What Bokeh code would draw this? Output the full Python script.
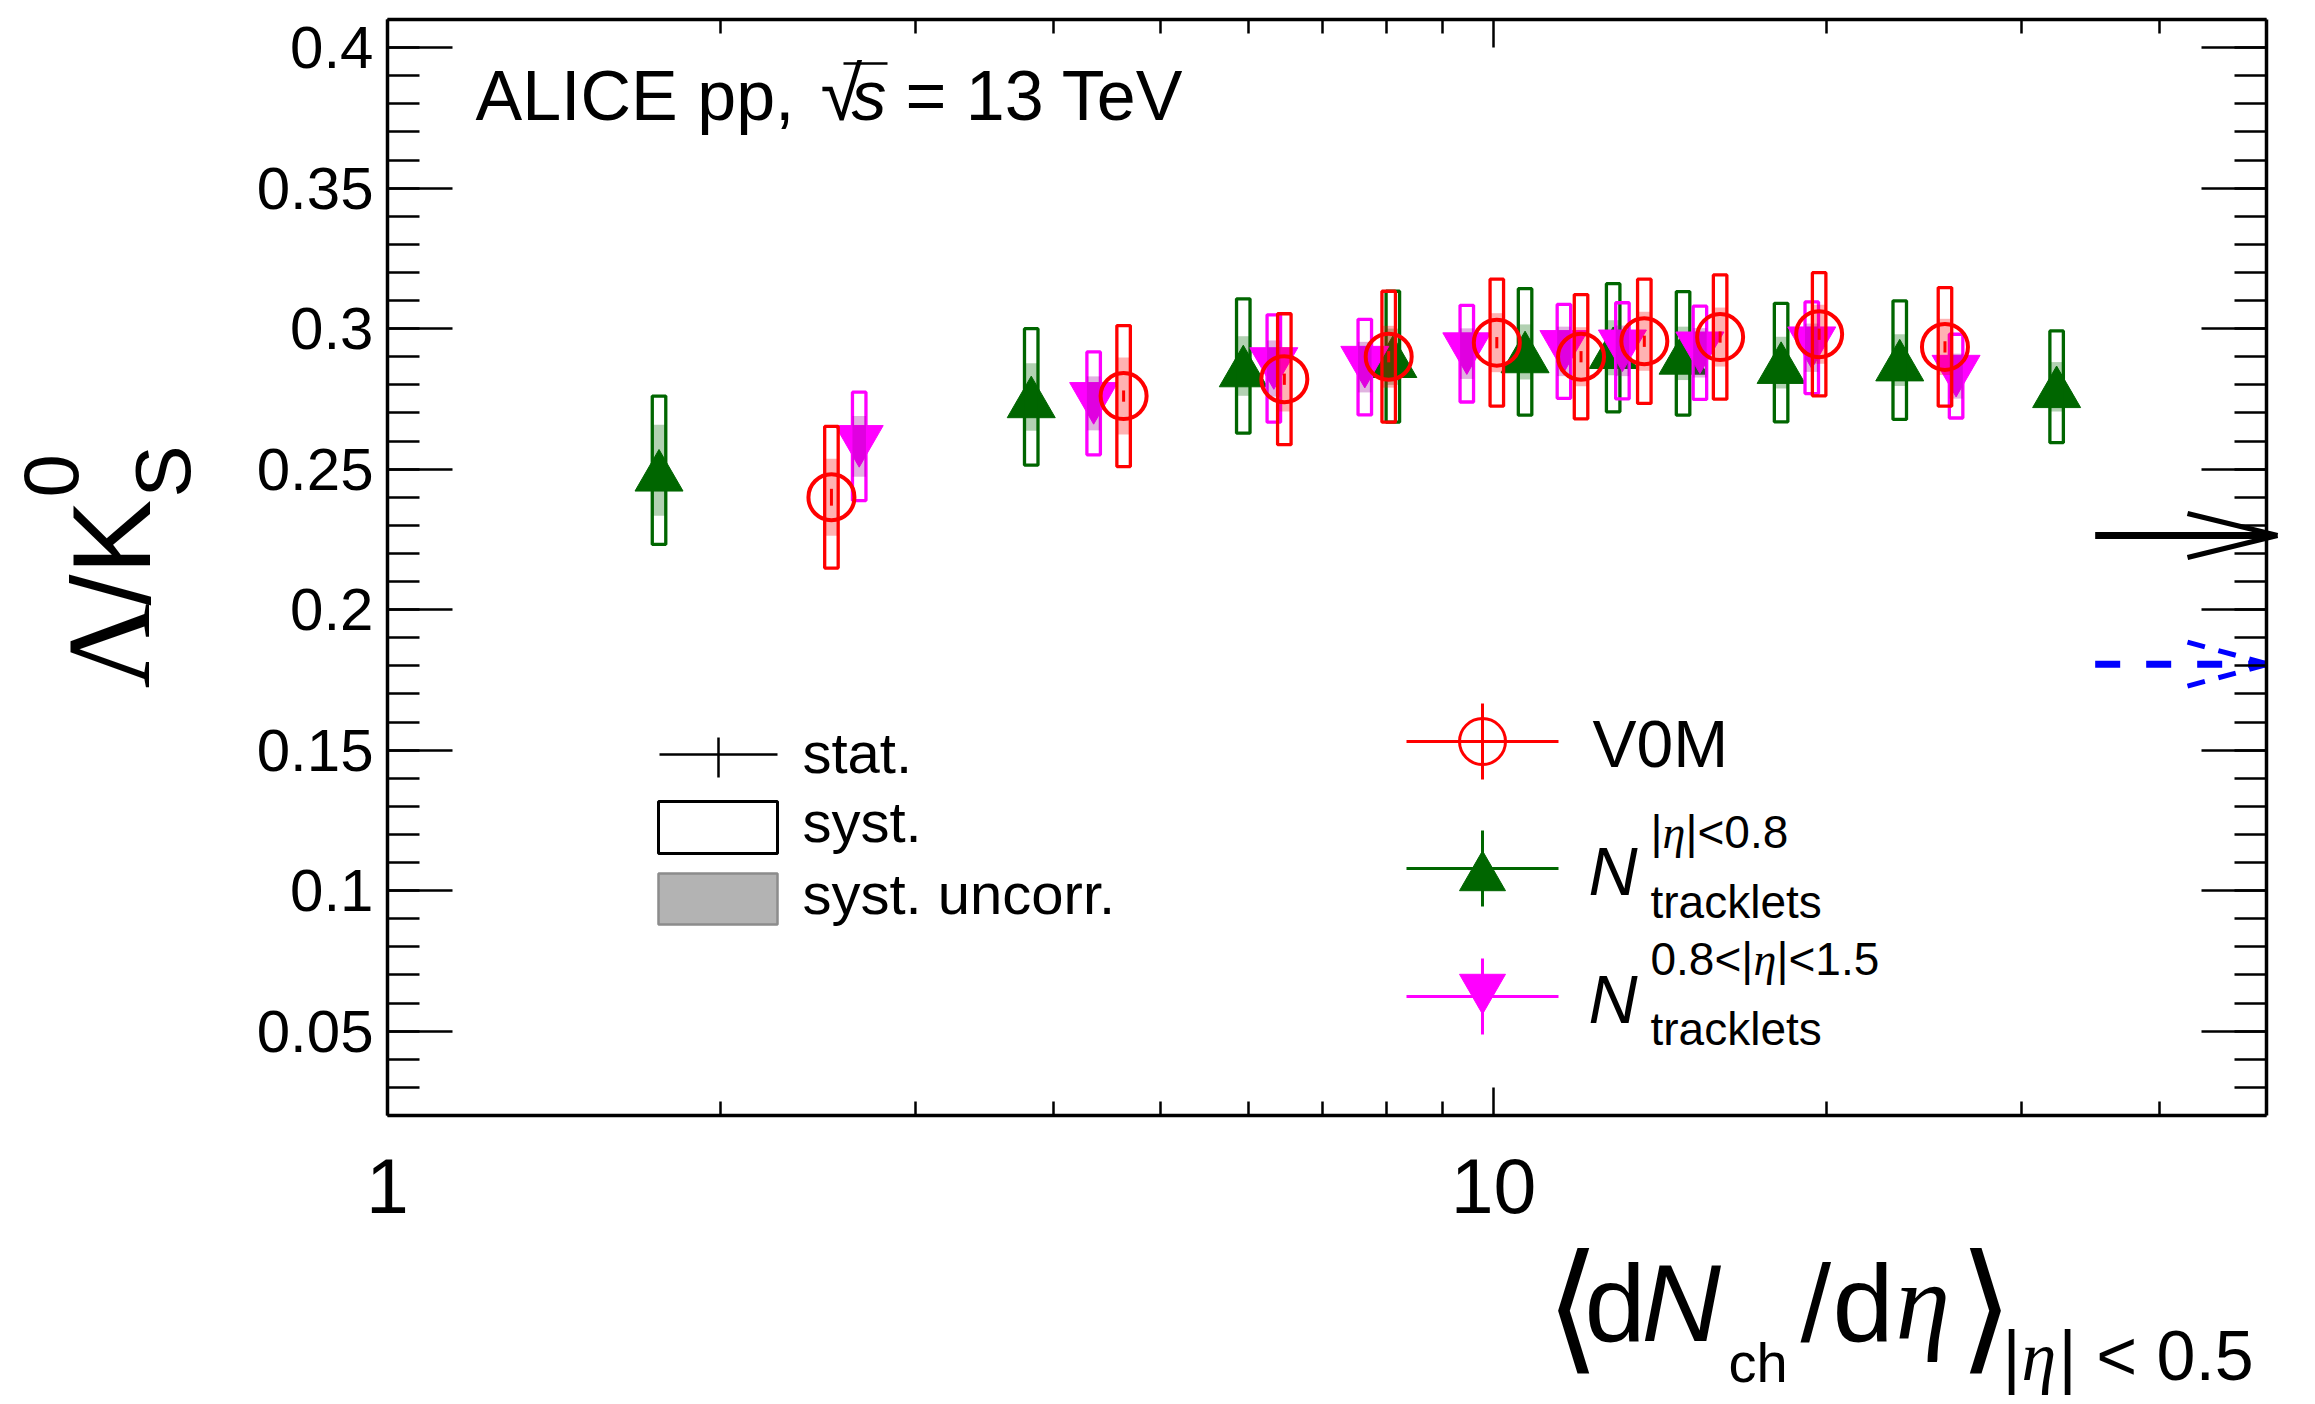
import math
from bokeh.plotting import figure
from bokeh.models import FixedTicker, LinearAxis, LogAxis, Label, CustomJSTickFormatter, Range1d
from bokeh.embed import file_html
from bokeh.resources import INLINE

# ------------------------------------------------------------------ data
# V0M multiplicity classes
v0m_x = [2.52, 4.63, 6.47, 8.04, 10.07, 12.0, 13.69, 16.03, 19.7, 25.6]
v0m_y = [0.240, 0.276, 0.282, 0.290, 0.295, 0.290, 0.2955, 0.297, 0.298, 0.2935]
v0m_stat = [0.003, 0.002, 0.002, 0.002, 0.002, 0.002, 0.002, 0.002, 0.002, 0.002]
v0m_syst = [0.0252, 0.0251, 0.0233, 0.0233, 0.0226, 0.0221, 0.0221, 0.0221, 0.0219, 0.0211]
v0m_unc = [0.0137, 0.0137, 0.0115, 0.0110, 0.0105, 0.0105, 0.0105, 0.0105, 0.0105, 0.0100]

# N tracklets |eta|<0.8
trk08_x = [1.76, 3.82, 5.94, 8.11, 10.68, 12.83, 14.84, 18.2, 23.3, 32.3]
trk08_y = [0.2496, 0.2757, 0.2867, 0.2900, 0.2917, 0.2932, 0.2912, 0.2879, 0.2888, 0.2793]
trk08_stat = [0.003, 0.002, 0.002, 0.002, 0.002, 0.002, 0.002, 0.002, 0.002, 0.002]
trk08_syst = [0.0264, 0.0243, 0.0239, 0.0233, 0.0225, 0.0228, 0.0220, 0.0211, 0.0211, 0.0199]
trk08_unc = [0.0162, 0.0120, 0.0106, 0.0100, 0.0098, 0.0098, 0.0095, 0.0092, 0.0092, 0.0088]

# N tracklets 0.8<|eta|<1.5
trk15_x = [2.67, 4.35, 6.33, 7.65, 9.46, 11.58, 13.08, 15.37, 19.4, 26.2]
trk15_y = [0.2581, 0.2734, 0.2858, 0.2863, 0.2911, 0.2919, 0.2921, 0.2914, 0.2932, 0.2831]
trk15_stat = [0.003, 0.002, 0.002, 0.002, 0.002, 0.002, 0.002, 0.002, 0.002, 0.002]
trk15_syst = [0.0193, 0.0183, 0.0191, 0.0170, 0.0172, 0.0167, 0.0171, 0.0166, 0.0163, 0.0149]
trk15_unc = [0.0108, 0.0096, 0.0100, 0.0090, 0.0090, 0.0088, 0.0090, 0.0088, 0.0086, 0.0080]

# reference values shown as arrows at the right edge
ref_y = [0.2264, 0.1806]
ref_x0 = [35.0, 35.0]

# axis ticks
x_major = [1, 10]
x_minor = [2, 3, 4, 5, 6, 7, 8, 9, 20, 30, 40]
y_major = [0.05, 0.1, 0.15, 0.2, 0.25, 0.3, 0.35, 0.4]
y_minor = [round(0.02 + 0.01 * i, 2) for i in range(40)]

# ------------------------------------------------------------------ layout
W, H = 2315, 1404
FL, FR, FT, FB = 387, 2266, 19, 1115      # plot box on the canvas (pixels)
XMIN, XMAX = 1.0, 50.0
YMIN, YMAX = 0.02, 0.41
SANS = "Liberation Sans"
SERIF = "Liberation Serif"
SYMB = "DejaVu Sans"
LOGSPAN = math.log10(XMAX / XMIN)


def dx(px):
    return XMIN * 10 ** ((px - FL) / (FR - FL) * LOGSPAN)


def dy(py):
    return YMAX - (py - FT) / (FB - FT) * (YMAX - YMIN)


PX_Y = (YMAX - YMIN) / (FB - FT)  # data units per screen pixel (y)

# the frame covers the whole canvas; axes are pinned to the plot box
p = figure(width=W, height=H, x_axis_type="log",
           x_range=Range1d(dx(0), dx(W)), y_range=Range1d(dy(H), dy(0)),
           x_axis_location=None, y_axis_location=None,
           output_backend="svg", toolbar_location=None,
           min_border_left=0, min_border_right=0, min_border_top=0, min_border_bottom=0,
           background_fill_color="white", border_fill_color="white",
           outline_line_color=None)
p.grid.visible = False

xticker = FixedTicker(ticks=x_major, minor_ticks=x_minor)
yticker = FixedTicker(ticks=y_major, minor_ticks=y_minor)


def base_axis(ax, ticker, tin, tmin, loc, bounds):
    ax.ticker = ticker
    ax.fixed_location = loc
    ax.bounds = bounds
    ax.axis_line_color = "black"
    ax.axis_line_width = 3.5
    ax.major_tick_line_color = "black"
    ax.major_tick_line_width = 2.5
    ax.minor_tick_line_color = "black"
    ax.minor_tick_line_width = 2.5
    ax.major_tick_in = tin
    ax.major_tick_out = 0
    ax.minor_tick_in = tmin
    ax.minor_tick_out = 0
    ax.major_label_text_color = "black"


xb = LogAxis()
base_axis(xb, xticker, 28, 14, YMIN, (XMIN, XMAX))
xb.formatter = CustomJSTickFormatter(code="return tick.toString();")
xb.major_label_text_font = SANS
xb.major_label_text_font_size = "77px"
xb.major_label_standoff = 43
p.add_layout(xb, "below")

yl = LinearAxis()
base_axis(yl, yticker, 65, 32, XMIN, (YMIN, YMAX))
yl.formatter = CustomJSTickFormatter(code="return (Math.round(tick*100)/100).toString();")
yl.major_label_text_font = SANS
yl.major_label_text_font_size = "60px"
yl.major_label_standoff = 14
p.add_layout(yl, "left")

xt = LogAxis()
base_axis(xt, xticker, 28, 14, YMAX, (XMIN, XMAX))
xt.major_label_text_font_size = "0px"
xt.formatter = CustomJSTickFormatter(code="return '';")
p.add_layout(xt, "above")

yr = LinearAxis()
base_axis(yr, yticker, 65, 32, XMAX, (YMIN, YMAX))
yr.major_label_text_font_size = "0px"
yr.formatter = CustomJSTickFormatter(code="return '';")
p.add_layout(yr, "right")

SHIFT = 0.35  # compensation (in em) for where the alphabetic baseline lands


def lab(text, px, py, size, font=SANS, style="normal", color="black", angle=0.0):
    if angle:
        x, y = px - SHIFT * size, H - py
    else:
        x, y = px, H - py + SHIFT * size
    p.add_layout(Label(x=x, y=y, x_units="screen", y_units="screen",
                       text=text, text_font=font, text_font_size=f"{size}px",
                       text_font_style=style, text_color=color, text_align="left",
                       text_baseline="alphabetic", angle=angle))


# ------------------------------------------------------------------ data series
BOX_W = 13.5


def draw_series(xs, ys, stat, syst, unc, color, shade, marker, size, filled, yoff):
    p.rect(x=xs, y=ys, width=BOX_W, height=[2 * s for s in syst], width_units="screen",
           fill_alpha=0, line_color=color, line_width=3.3)
    p.segment(x0=xs, y0=[y - s for y, s in zip(ys, stat)], x1=xs,
              y1=[y + s for y, s in zip(ys, stat)], line_color=color, line_width=3)
    if filled:
        p.scatter(x=xs, y=[y + yoff for y in ys], marker=marker, size=size,
                  fill_color=color, line_color=color, line_width=1)
    else:
        p.scatter(x=xs, y=ys, marker=marker, size=size, fill_alpha=0,
                  line_color=color, line_width=4)
    p.rect(x=xs, y=ys, width=BOX_W, height=[2 * s for s in unc], width_units="screen",
           fill_color=shade, fill_alpha=0.3, line_alpha=0)


TRI = 48
tri_off = TRI * math.sqrt(3) / 2 / 6 * PX_Y
GREEN = "#006600"
MAGENTA = "#ff00ff"
RED = "#ff0000"

draw_series(trk08_x, trk08_y, trk08_stat, trk08_syst, trk08_unc, GREEN, GREEN,
            "triangle", TRI, True, -tri_off)
draw_series(trk15_x, trk15_y, trk15_stat, trk15_syst, trk15_unc, MAGENTA, "#990099",
            "inverted_triangle", TRI, True, tri_off)
draw_series(v0m_x, v0m_y, v0m_stat, v0m_syst, v0m_unc, RED, RED,
            "circle", 46, False, 0.0)

# reference arrows
head_dy = 22 * PX_Y
p.segment(x0=[ref_x0[0]], y0=[ref_y[0]], x1=[XMAX], y1=[ref_y[0]], line_color="black", line_width=7)
p.segment(x0=[dx(2187)] * 2, y0=[ref_y[0] + head_dy, ref_y[0] - head_dy],
          x1=[dx(2277)] * 2, y1=[ref_y[0]] * 2, line_color="black", line_width=5)
p.segment(x0=[ref_x0[1]], y0=[ref_y[1]], x1=[XMAX], y1=[ref_y[1]], line_color="#0000ff",
          line_width=7, line_dash="25 26")
p.segment(x0=[dx(2187)] * 2, y0=[ref_y[1] + head_dy, ref_y[1] - head_dy],
          x1=[dx(2268)] * 2, y1=[ref_y[1]] * 2, line_color="#0000ff", line_width=5,
          line_dash="18 14")

# ------------------------------------------------------------------ legend 1
p.segment(x0=[dx(659), dx(718)], y0=[dy(754), dy(737)], x1=[dx(777), dx(718)],
          y1=[dy(754), dy(777)], line_color="black", line_width=2.5)
p.quad(left=[dx(658)], right=[dx(777)], top=[dy(801)], bottom=[dy(853)],
       fill_alpha=0, line_color="black", line_width=3)
p.quad(left=[dx(658)], right=[dx(777)], top=[dy(873)], bottom=[dy(924)],
       fill_color="#b3b3b3", line_color="#8c8c8c", line_width=2.5)
lab("stat.", 802, 772, 58)
lab("syst.", 802, 841, 58)
lab("syst. uncorr.", 802, 913, 58)

# ------------------------------------------------------------------ legend 2
for col, ly in ((RED, 741), (GREEN, 868), (MAGENTA, 996)):
    p.segment(x0=[dx(1406), dx(1482)], y0=[dy(ly), dy(ly - 38)], x1=[dx(1558), dx(1482)],
              y1=[dy(ly), dy(ly + 38)], line_color=col, line_width=3)
p.scatter(x=[dx(1482)], y=[dy(741)], marker="circle", size=46, fill_alpha=0,
          line_color=RED, line_width=3)
p.scatter(x=[dx(1482)], y=[dy(870) - tri_off], marker="triangle", size=46,
          fill_color=GREEN, line_color=GREEN)
p.scatter(x=[dx(1482)], y=[dy(994) + tri_off], marker="inverted_triangle", size=46,
          fill_color=MAGENTA, line_color=MAGENTA)
lab("V0M", 1592, 767, 66)
lab("N", 1588, 894, 68, style="italic")
lab("|", 1650, 848, 46)
lab("η", 1662, 848, 46, font=SERIF, style="italic")
lab("|<0.8", 1685, 848, 46)
lab("tracklets", 1650, 918, 46)
lab("N", 1588, 1022, 68, style="italic")
lab("0.8<|", 1650, 975, 46)
lab("η", 1753, 975, 46, font=SERIF, style="italic")
lab("|<1.5", 1776, 975, 46)
lab("tracklets", 1650, 1045, 46)

# ------------------------------------------------------------------ header
lab("ALICE pp,", 475, 120, 70)
lab("√", 820, 120, 76)
p.segment(x0=[dx(843)], y0=[dy(63)], x1=[dx(887)], y1=[dy(63)], line_color="black", line_width=2.5)
lab("s", 851, 120, 70, style="italic")
lab("= 13 TeV", 905, 120, 70)

# ------------------------------------------------------------------ axis titles
HALF_PI = math.pi / 2
lab("Λ", 150, 688, 118, font=SERIF, angle=HALF_PI)
lab("/K", 150, 605, 112, angle=HALF_PI)
lab("S", 190, 497, 78, angle=HALF_PI)
lab("0", 78, 497, 78, angle=HALF_PI)

lab("⟨", 1545, 1355, 141, font=SYMB)
lab("d", 1584, 1340, 110)
lab("N", 1641, 1340, 110, style="italic")
lab("ch", 1728, 1382, 56)
lab("/", 1800, 1340, 110)
lab("d", 1832, 1340, 110)
lab("η", 1895, 1340, 110, font=SERIF, style="italic")
lab("⟩", 1958, 1355, 141, font=SYMB)
lab("|", 2002, 1380, 70)
lab("η", 2021, 1380, 70, font=SERIF, style="italic")
lab("| < 0.5", 2058, 1380, 70)

open("out.html", "w").write(file_html(p, INLINE))
